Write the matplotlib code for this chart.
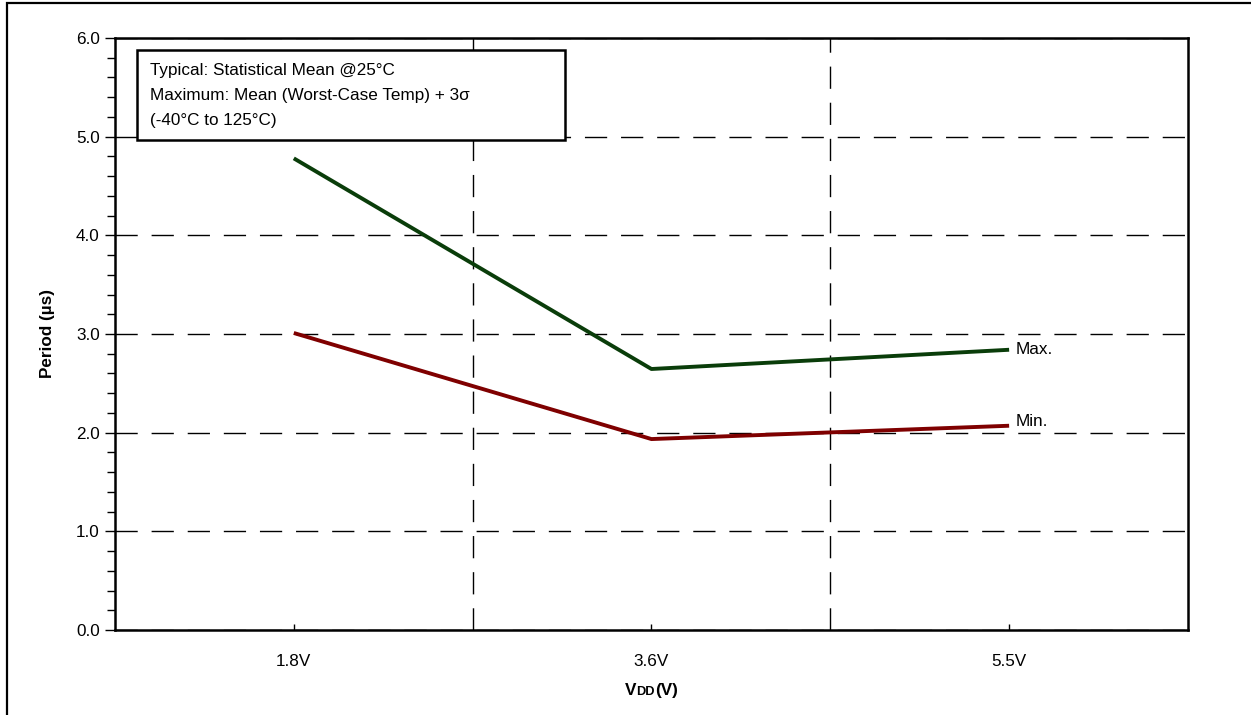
import numpy as np
import matplotlib
matplotlib.use('Agg')
import matplotlib.pyplot as plt
from matplotlib.patches import Rectangle
from matplotlib.offsetbox import TextArea, HPacker, AnchoredOffsetbox
from matplotlib.ticker import MultipleLocator, FixedLocator

plt.rcParams['font.family'] = ['Liberation Sans', 'DejaVu Sans']

# Data
vdd_labels = ['1.8V', '3.6V', '5.5V']
period_max = [4.78, 2.645, 2.84]
period_min = [3.01, 1.935, 2.07]

fs = 12.3

fig = plt.figure(figsize=(12.51, 7.15), dpi=100)
ax = fig.add_axes([0.0919, 0.1189, 0.8577, 0.828])

x = np.arange(len(vdd_labels))
ax.plot(x, period_max, color='#0a3d0a', lw=2.8, solid_capstyle='butt')
ax.plot(x, period_min, color='#7f0000', lw=2.8, solid_capstyle='butt')

ax.annotate('Max.', (x[-1], period_max[-1]), xytext=(5, 0), textcoords='offset points',
            fontsize=fs, va='center')
ax.annotate('Min.', (x[-1], period_min[-1]), xytext=(5, 3), textcoords='offset points',
            fontsize=fs, va='center')

ax.set_xlim(-0.5, len(vdd_labels) - 0.5)
ax.set_ylim(0, 6)

# axes ticks
ax.set_xticks(x)
ax.set_xticklabels(vdd_labels, fontsize=fs)
ax.xaxis.set_minor_locator(FixedLocator(x[:-1] + 0.5))
ax.tick_params(axis='x', which='major', direction='in', length=4, width=1, pad=17)
ax.tick_params(axis='x', which='minor', length=0)
ax.yaxis.set_major_locator(MultipleLocator(1))
ax.yaxis.set_minor_locator(MultipleLocator(0.2))
ax.set_yticklabels([f'{v:.1f}' for v in ax.get_yticks()], fontsize=fs)
ax.tick_params(axis='y', which='major', direction='out', length=7, width=1, pad=4)
ax.tick_params(axis='y', which='minor', direction='out', length=6, width=1)

# dashed grid
ax.grid(True, axis='y', which='major', color='black', lw=1, dashes=(16, 10))
ax.grid(True, axis='x', which='minor', color='black', lw=1, dashes=(16, 10))
ax.set_axisbelow(True)

for s in ax.spines.values():
    s.set_linewidth(1.8)

ax.set_ylabel('Period (µs)', fontsize=fs, fontweight='bold', labelpad=15)

# x label: V with small-caps DD
parts = [TextArea('V', textprops=dict(fontsize=fs, fontweight='bold')),
         TextArea('DD', textprops=dict(fontsize=fs * 0.75, fontweight='bold')),
         TextArea('(V)', textprops=dict(fontsize=fs, fontweight='bold'))]
xlab = HPacker(children=parts, align='baseline', pad=0, sep=0)
box = AnchoredOffsetbox(loc='center', child=xlab, frameon=False,
                        bbox_to_anchor=(0.5, -0.103), bbox_transform=ax.transAxes,
                        borderpad=0)
ax.add_artist(box)

# note box
ax.add_patch(Rectangle((0.0205, 0.8277), 0.3989, 0.152, transform=ax.transAxes,
                       fill=True, fc='white', ec='black', lw=1.8, zorder=4))
note = ('Typical: Statistical Mean @25°C\n'
        'Maximum: Mean (Worst-Case Temp) + 3σ\n'
        '(-40°C to 125°C)')
ax.text(0.0326, 0.957, note, transform=ax.transAxes, fontsize=fs, va='top', ha='left',
        linespacing=1.82, zorder=5)

# figure frame (cut on right and bottom)
fig.add_artist(Rectangle((0.0056, -0.1), 1.2, 1.0965, fill=False, lw=1.6,
                         ec='black', transform=fig.transFigure))

fig.savefig('out.png', dpi=100)
